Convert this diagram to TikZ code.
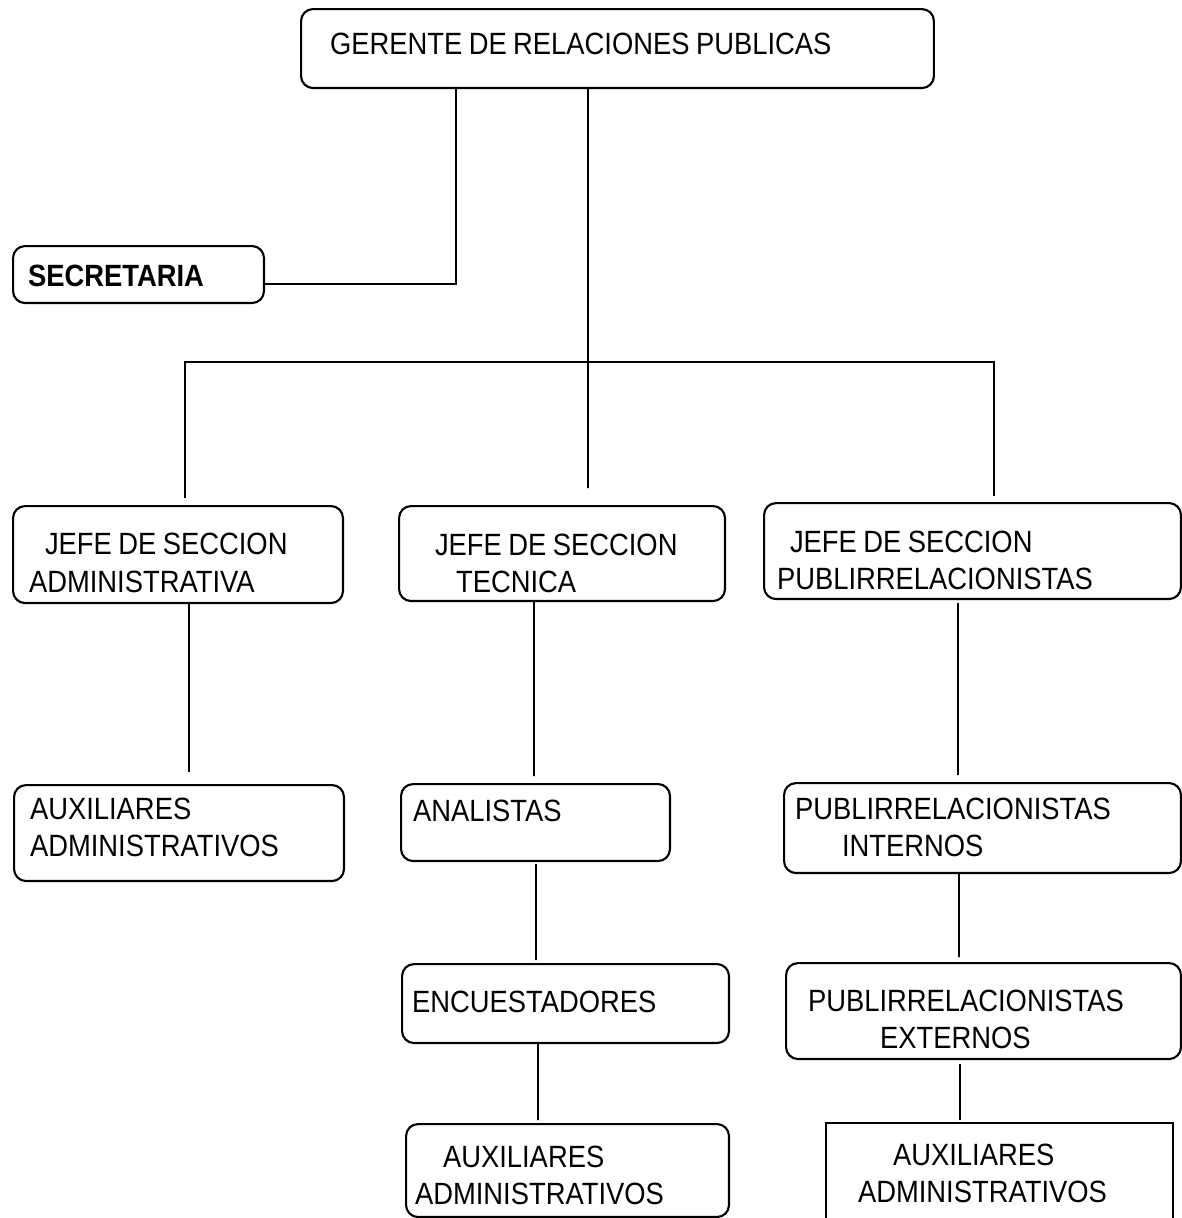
\documentclass[tikz,border=0pt]{standalone}
\usepackage{fontspec}
\setmainfont{Liberation Sans}[FakeStretch=0.89]
\usetikzlibrary{calc}

\newdimen\pxu \pxu=0.02cm
\newcommand{\sangria}[1]{\hspace*{#1\pxu}}

\tikzset{
  cargo/.style={draw, line width=1.2pt, rounded corners=0.24cm, anchor=north west,
    inner sep=0pt, align=left, font=\fontsize{17.5pt}{21.4pt}\selectfont,
    execute at begin node={\spaceskip=0.21em\relax}},
  enlace/.style={line width=1.1pt},
}

\begin{document}
\begin{tikzpicture}[x=0.02cm,y=-0.02cm]
\useasboundingbox (0,0) rectangle (1181,1218);

% gerencia y secretaria
\node[cargo, text width=12.66cm, minimum height=1.58cm, text height=0.22cm, text depth=0pt] (ger) at (300,8)
  {\sangria{29}GERENTE DE RELACIONES PUBLICAS};
\node[cargo, text width=5.02cm, minimum height=1.14cm, text height=0.46cm, text depth=0pt] (sec) at (12,245)
  {\sangria{15}\textbf{SECRETARIA}};

% jefes de seccion
\node[cargo, text width=6.60cm, minimum height=1.94cm, text height=0pt, text depth=0pt] (adm) at (12,505)
  {\sangria{32}JEFE DE SECCION\\\sangria{16}ADMINISTRATIVA};
\node[cargo, text width=6.52cm, minimum height=1.90cm, text height=0.06cm, text depth=0pt] (tec) at (398,505)
  {\sangria{36}JEFE DE SECCION\\\sangria{57}TECNICA};
\node[cargo, text width=8.34cm, minimum height=1.92cm, text height=0.04cm, text depth=0pt] (pub) at (763,502)
  {\sangria{26}JEFE DE SECCION\\\sangria{13}PUBLIRRELACIONISTAS};

% seccion administrativa
\node[cargo, text width=6.60cm, minimum height=1.92cm, text height=0pt, text depth=0.56cm] (aux1) at (13,784)
  {\sangria{16}AUXILIARES\\\sangria{16}ADMINISTRATIVOS};

% seccion tecnica
\node[cargo, text width=5.38cm, minimum height=1.54cm, text height=0pt, text depth=0.06cm] (ana) at (400,783)
  {\sangria{12}ANALISTAS};
\node[cargo, text width=6.54cm, minimum height=1.58cm, text height=0.34cm, text depth=0pt] (enc) at (401,963)
  {\sangria{10}ENCUESTADORES};
\node[cargo, text width=6.46cm, minimum height=1.86cm, text height=0pt, text depth=0.14cm] (aux2) at (405,1123)
  {\sangria{37}AUXILIARES\\\sangria{9}ADMINISTRATIVOS};

% seccion publirrelacionistas
\node[cargo, text width=7.94cm, minimum height=1.80cm, text height=0pt, text depth=0.36cm] (int) at (783,782)
  {\sangria{11}PUBLIRRELACIONISTAS\\\sangria{58}INTERNOS};
\node[cargo, text width=7.90cm, minimum height=1.92cm, text height=0pt, text depth=0pt] (ext) at (785,962)
  {\sangria{22}PUBLIRRELACIONISTAS\\\sangria{94}EXTERNOS};
\node[cargo, sharp corners, text width=6.94cm, minimum height=2.00cm, text height=0pt, text depth=0.32cm] (aux3) at (825,1122)
  {\sangria{67}AUXILIARES\\\sangria{32}ADMINISTRATIVOS};

% lineas
\coordinate (barra) at (587,362);
\draw[enlace] ($(ger.south)+(-161.5,0)$) |- ($(sec.east)+(0,9.5)$);
\draw[enlace] ($(ger.south)+(-29.5,0)$) -- ($(tec.north)+(26,-17)$);
\draw[enlace] ($(adm.north)+(7,-7)$) |- (barra) -| ($(pub.north)+(21.5,-6)$);
\draw[enlace] ($(adm.south)+(11,0)$) -- ($(aux1.north)+(10,-12)$);
\draw[enlace] ($(tec.south)+(-28,0)$) -- ($(ana.north)+(-1.5,-7)$);
\draw[enlace] ($(ana.south)+(0.5,2)$) -- ($(enc.north)+(-29.5,-3)$);
\draw[enlace] ($(enc.south)+(-27.5,0)$) -- ($(aux2.north)+(-29.5,-3)$);
\draw[enlace] ($(pub.south)+(-14.5,3)$) -- ($(int.north)+(-24.5,-7)$);
\draw[enlace] ($(int.south)+(-23.5,0)$) -- ($(ext.north)+(-24.5,-5)$);
\draw[enlace] ($(ext.south)+(-23.5,4)$) -- ($(aux3.north)+(-39.5,-2)$);
\end{tikzpicture}
\end{document}
